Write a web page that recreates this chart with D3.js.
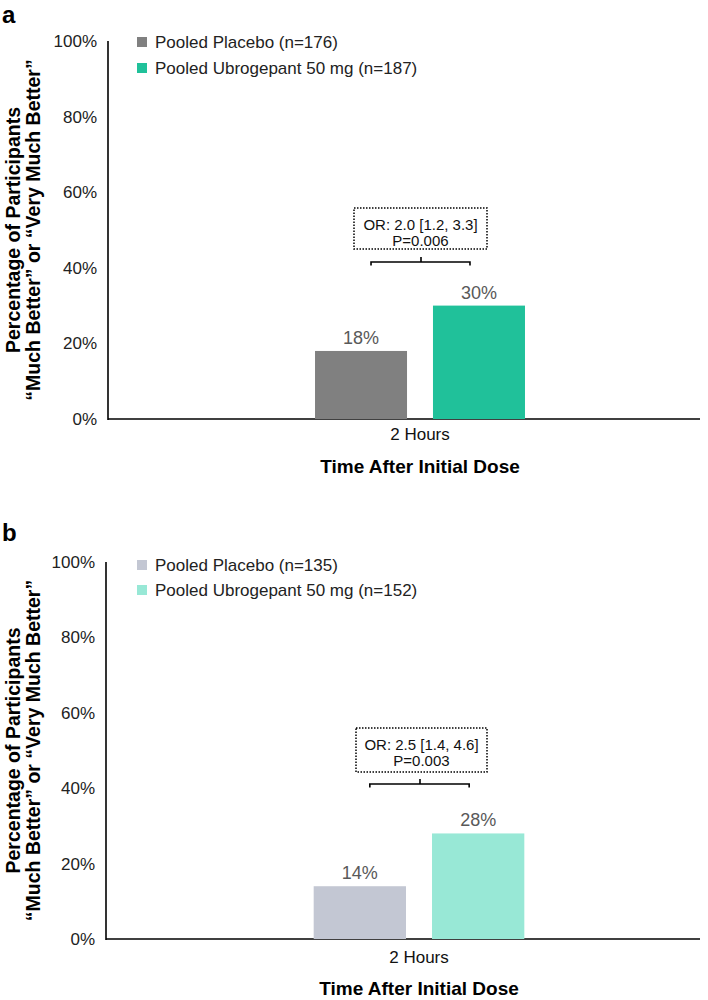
<!DOCTYPE html>
<html>
<head>
<meta charset="utf-8">
<script src="https://cdn.jsdelivr.net/npm/d3@7"></script>
<style>
  html, body { margin: 0; padding: 0; background: #fff; }
  svg { display: block; font-family: Arial, "Liberation Sans", sans-serif; }
</style>
</head>
<body>
<svg id="chart" width="708" height="1000"></svg>
<script>
// ---- data ----
const categories = ["2 Hours"];
const seriesNames = ["Pooled Placebo", "Pooled Ubrogepant 50 mg"];
const panelLabels = ["a", "b"];
const panelAValues = [0.18, 0.30];
const panelBValues = [0.14, 0.28];
const panelALegend = ["Pooled Placebo (n=176)", "Pooled Ubrogepant 50 mg (n=187)"];
const panelBLegend = ["Pooled Placebo (n=135)", "Pooled Ubrogepant 50 mg (n=152)"];
const panelAStats = ["OR: 2.0 [1.2, 3.3]", "P=0.006"];
const panelBStats = ["OR: 2.5 [1.4, 4.6]", "P=0.003"];
const yTicks = [0, 0.2, 0.4, 0.6, 0.8, 1.0];
const yTitle = ["Percentage of Participants", "\u201CMuch Better\u201D or \u201CVery Much Better\u201D"];
const xTitle = "Time After Initial Dose";

const svg = d3.select("#chart");
const FONT = "Arial, 'Liberation Sans', sans-serif";

function drawPanel(opt) {
  const g = svg.append("g");
  const y = d3.scaleLinear().domain([0, 1]).range([opt.y0, opt.y1]);
  const x = d3.scaleBand().domain(categories).range([opt.axisX, 732]).paddingInner(0).paddingOuter(0.986);
  const xi = d3.scaleBand().domain(seriesNames).range([0, x.bandwidth()]).paddingInner(0.22).paddingOuter(0);
  const color = d3.scaleOrdinal().domain(seriesNames).range(opt.colors);

  // panel label
  g.append("text").attr("x", 2).attr("y", opt.labelY)
    .attr("font-size", 24).attr("font-weight", "bold").attr("fill", "#000").text(opt.label);

  // y axis
  const yAxis = d3.axisLeft(y).tickValues(yTicks).tickFormat(d3.format(".0%")).tickSize(0).tickPadding(11);
  const ya = g.append("g").attr("transform", `translate(${opt.axisX},0)`).call(yAxis);
  ya.select(".domain").remove();
  ya.selectAll("text").attr("font-size", 17).attr("fill", "#222").attr("font-family", FONT);
  g.append("line").attr("x1", opt.axisX).attr("x2", opt.axisX).attr("y1", y(1)).attr("y2", y(0) + 1)
    .attr("stroke", "#000").attr("stroke-width", 1.6);

  // x axis
  const xAxis = d3.axisBottom(x).tickSize(0).tickPadding(opt.xTickPad);
  const xa = g.append("g").attr("transform", `translate(0,${y(0)})`).call(xAxis);
  xa.select(".domain").remove();
  xa.selectAll("text").attr("font-size", 17).attr("fill", "#111").attr("font-family", FONT);
  g.append("line").attr("x1", opt.axisX).attr("x2", 700).attr("y1", y(0)).attr("y2", y(0))
    .attr("stroke", "#000").attr("stroke-width", 1.6);

  // x title
  g.append("text").attr("x", x(categories[0]) + x.bandwidth() / 2).attr("y", y(0) + opt.xTitleOff)
    .attr("text-anchor", "middle").attr("font-size", 19).attr("font-weight", "bold").attr("fill", "#000").text(xTitle);

  // y title
  const cy = (y(0) + y(1)) / 2;
  const yt = g.append("text").attr("transform", `translate(0,${cy}) rotate(-90)`)
    .attr("text-anchor", "middle").attr("font-size", 19.5).attr("font-weight", "bold").attr("fill", "#000");
  yt.append("tspan").attr("x", 0).attr("y", 20).text(yTitle[0]);
  yt.append("tspan").attr("x", 0).attr("y", 40).text(yTitle[1]);

  // bars
  const data = seriesNames.map((s, i) => ({ cat: categories[0], s, v: opt.values[i] }));
  g.selectAll("rect.bar").data(data).enter().append("rect").attr("class", "bar")
    .attr("x", d => x(d.cat) + xi(d.s)).attr("width", xi.bandwidth())
    .attr("y", d => y(d.v)).attr("height", d => y(0) - y(d.v))
    .attr("fill", d => color(d.s));
  g.selectAll("text.val").data(data).enter().append("text").attr("class", "val")
    .attr("x", d => x(d.cat) + xi(d.s) + xi.bandwidth() / 2).attr("y", d => y(d.v) - 7)
    .attr("text-anchor", "middle").attr("font-size", 18).attr("fill", "#595959")
    .text(d => d3.format(".0%")(d.v));

  // bracket
  const bx1 = x(categories[0]) + xi(seriesNames[0]) + xi.bandwidth() / 2 + 10;
  const bx2 = x(categories[0]) + xi(seriesNames[1]) + xi.bandwidth() / 2 - 9;
  const by = opt.bracketY;
  const bm = (bx1 + bx2) / 2 + 0.5;
  g.append("path")
    .attr("d", `M${bx1},${by + 3.5}V${by}H${bx2}V${by + 3.5}M${bm},${by}V${by - 5}`)
    .attr("fill", "none").attr("stroke", "#000").attr("stroke-width", 1.6);

  // stats box
  g.append("rect").attr("x", opt.box[0]).attr("y", opt.box[1]).attr("width", opt.box[2]).attr("height", opt.box[3])
    .attr("fill", "none").attr("stroke", "#000").attr("stroke-width", 1.5).attr("stroke-dasharray", "1.5,1.5");
  const tx = opt.box[0] + opt.box[2] / 2;
  opt.stats.forEach((t, i) => {
    g.append("text").attr("x", tx).attr("y", opt.box[1] + 22 + i * 15.5)
      .attr("text-anchor", "middle").attr("font-size", 15).attr("fill", "#111").text(t);
  });

  // legend
  opt.legend.forEach((t, i) => {
    const ly = opt.legendY + i * opt.legendGap;
    g.append("rect").attr("x", 137).attr("y", ly - 5).attr("width", 10).attr("height", 10).attr("fill", opt.colors[i]);
    g.append("text").attr("x", 155).attr("y", ly + 6).attr("font-size", 17).attr("fill", "#222").text(t);
  });
}

drawPanel({
  label: panelLabels[0], labelY: 23, y0: 419, y1: 41, axisX: 108, xTickPad: 9, xTitleOff: 54,
  values: panelAValues, colors: ["#808080", "#20C19A"], legend: panelALegend, legendY: 42, legendGap: 26,
  stats: panelAStats, box: [354, 208, 133, 41], bracketY: 262
});
drawPanel({
  label: panelLabels[1], labelY: 541, y0: 939, y1: 562, axisX: 106, xTickPad: 12, xTitleOff: 56,
  values: panelBValues, colors: ["#C3C7D3", "#98E8D6"], legend: panelBLegend, legendY: 565, legendGap: 25,
  stats: panelBStats, box: [356, 728, 131, 44], bracketY: 784
});
</script>
</body>
</html>
